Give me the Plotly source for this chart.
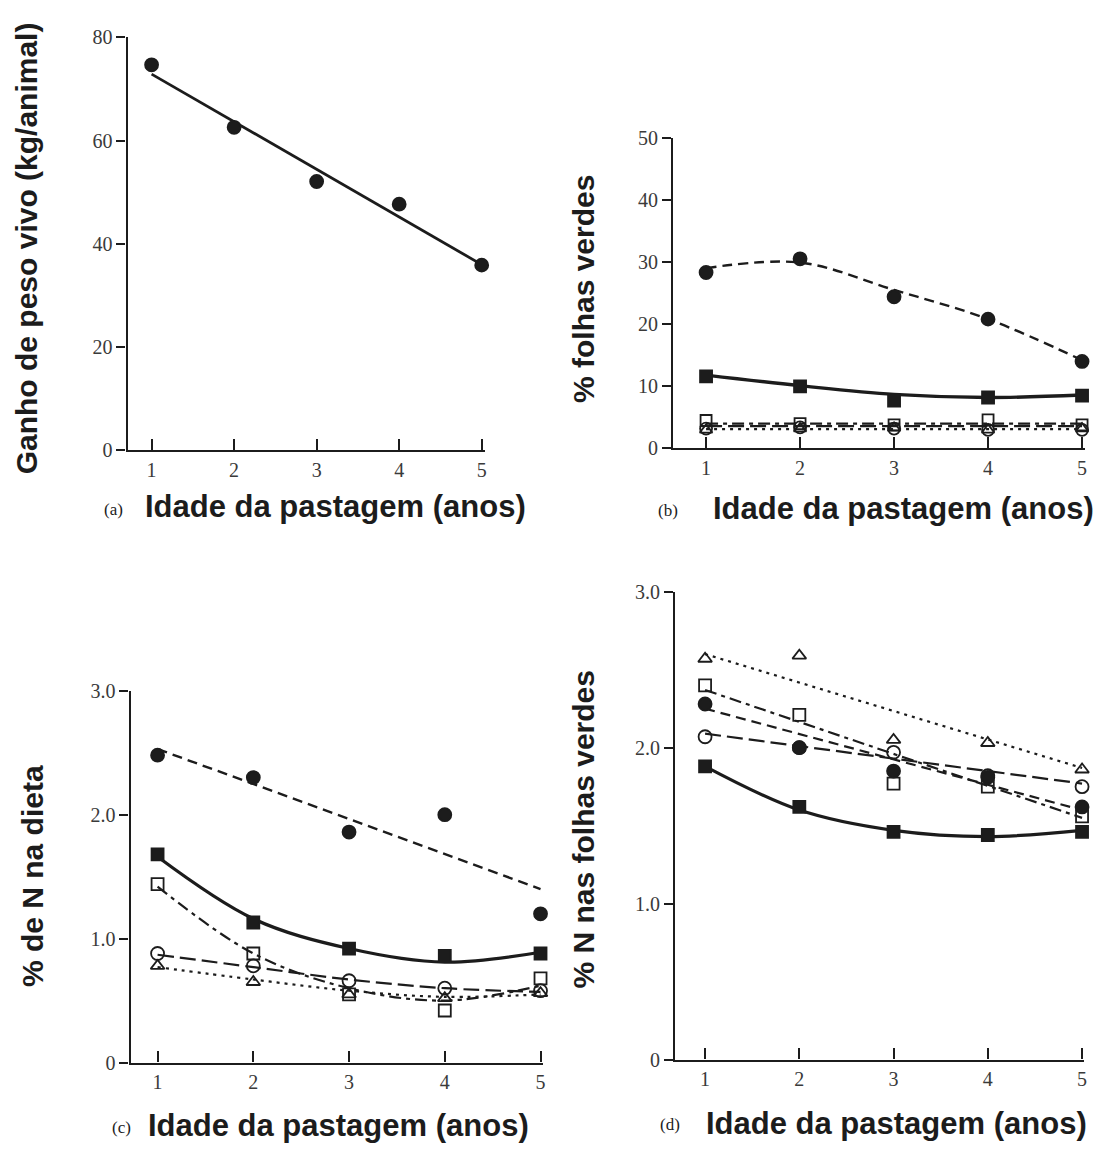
import plotly.graph_objects as go

W, H = 1104, 1153
years = [1, 2, 3, 4, 5]
ends = [1, 5]

# Panel (a)
a_gain = [74.7, 62.6, 52.1, 47.7, 35.9]
a_fit = [72.9, 36.0]

# Panel (b) % folhas verdes
b_fcirc = [28.3, 30.5, 24.4, 20.8, 14.0]
b_fcirc_fit = [29.0, 29.9, 25.5, 20.8, 14.2]
b_fsq = [11.6, 10.0, 7.7, 8.2, 8.5]
b_fsq_fit = [11.8, 10.1, 8.7, 8.2, 8.6]
b_osq = [4.5, 4.0, 3.8, 4.6, 3.8]
b_osq_fit = [4.0, 4.0, 4.0, 4.0, 4.0]
b_ocirc = [3.2, 3.4, 3.2, 3.0, 3.0]
b_ocirc_fit = [3.6, 3.6, 3.6, 3.6, 3.6]
b_tri = [3.0, 3.2, 3.3, 3.0, 3.2]
b_tri_fit = [3.1, 3.1, 3.1, 3.1, 3.1]

# Panel (c) % de N na dieta
c_fcirc = [2.48, 2.30, 1.86, 2.00, 1.20]
c_fcirc_fit = [2.53, 1.40]
c_fsq = [1.68, 1.13, 0.92, 0.86, 0.88]
c_fsq_fit = [1.66, 1.16, 0.92, 0.81, 0.89]
c_osq = [1.44, 0.88, 0.55, 0.42, 0.68]
c_osq_fit = [1.42, 0.88, 0.60, 0.50, 0.62]
c_ocirc = [0.88, 0.78, 0.66, 0.60, 0.58]
c_ocirc_fit = [0.87, 0.77, 0.67, 0.60, 0.57]
c_tri = [0.78, 0.65, 0.55, 0.52, 0.56]
c_tri_fit = [0.77, 0.67, 0.58, 0.53, 0.55]

# Panel (d) % N nas folhas verdes
d_tri = [2.57, 2.59, 2.05, 2.03, 1.86]
d_tri_fit = [2.60, 1.87]
d_osq = [2.40, 2.21, 1.77, 1.75, 1.56]
d_osq_fit = [2.37, 1.55]
d_fcirc = [2.28, 2.00, 1.85, 1.81, 1.62]
d_fcirc_fit = [2.25, 1.60]
d_ocirc = [2.07, 2.00, 1.97, 1.82, 1.75]
d_ocirc_fit = [2.09, 1.77]
d_fsq = [1.88, 1.62, 1.46, 1.44, 1.46]
d_fsq_fit = [1.88, 1.60, 1.47, 1.43, 1.47]

INK = "#1c1c1c"
SERIF = "Liberation Serif, Times New Roman, serif"
SANS = "Liberation Sans, Arial, sans-serif"

DASH = "10px,6px"
DASHDOT = "12px,5px,4px,5px"
LONGDASH = "16px,6px"
DOT = "3px,5px"

fig = go.Figure()


def px_x(x):
    return x / W


def px_y(y):
    return 1 - y / H


def add_pts(ax, xs, ys, symbol, size=12):
    fig.add_trace(go.Scatter(
        x=xs, y=ys, mode="markers", xaxis="x" + ax, yaxis="y" + ax, cliponaxis=False,
        marker=dict(symbol=symbol, size=size, color=INK,
                    line=dict(color=INK, width=1.8)),
        showlegend=False, hoverinfo="skip"))


def add_line(ax, xs, ys, dash, width=2.0, spline=False):
    fig.add_trace(go.Scatter(
        x=xs, y=ys, mode="lines", xaxis="x" + ax, yaxis="y" + ax, cliponaxis=False,
        line=dict(color=INK, width=width, dash=dash, shape="spline" if spline else "linear",
                  smoothing=1.0),
        showlegend=False, hoverinfo="skip"))


# (a)
add_line("", ends, a_fit, "solid", 2.8)
add_pts("", years, a_gain, "circle", 13)

# (b)
add_line("2", years, b_osq_fit, DASHDOT, 2.2)
add_line("2", years, b_ocirc_fit, LONGDASH, 2.2)
add_line("2", years, b_tri_fit, DOT, 2.2)
add_pts("2", years, b_osq, "square-open", 11)
add_pts("2", years, b_ocirc, "circle-open", 12)
add_pts("2", years, b_tri, "triangle-up-open", 11)
add_line("2", years, b_fcirc_fit, DASH, 2.4, True)
add_pts("2", years, b_fcirc, "circle", 13)
add_line("2", years, b_fsq_fit, "solid", 3.4, True)
add_pts("2", years, b_fsq, "square", 12)

# (c)
add_line("3", ends, c_fcirc_fit, DASH, 2.4)
add_pts("3", years, c_fcirc, "circle", 13)
add_line("3", years, c_fsq_fit, "solid", 3.2, True)
add_pts("3", years, c_fsq, "square", 12)
add_line("3", years, c_osq_fit, DASHDOT, 2.2, True)
add_line("3", years, c_ocirc_fit, LONGDASH, 2.2, True)
add_line("3", years, c_tri_fit, DOT, 2.2, True)
add_pts("3", years, c_osq, "square-open", 12)
add_pts("3", years, c_ocirc, "circle-open", 13)
add_pts("3", years, c_tri, "triangle-up-open", 12)

# (d)
add_line("4", ends, d_tri_fit, DOT, 2.2)
add_line("4", ends, d_osq_fit, DASHDOT, 2.2)
add_line("4", ends, d_fcirc_fit, DASH, 2.2)
add_line("4", ends, d_ocirc_fit, LONGDASH, 2.2)
add_line("4", years, d_fsq_fit, "solid", 3.2, True)
add_pts("4", years, d_ocirc, "circle-open", 13)
add_pts("4", years, d_tri, "triangle-up-open", 12)
add_pts("4", years, d_osq, "square-open", 12)
add_pts("4", years, d_fcirc, "circle", 13)
add_pts("4", years, d_fsq, "square", 12)

tickfont = dict(family=SERIF, size=20, color="#3a3a3a")


def xrange_for(axis_px, t1, t5, end_px):
    ppu = (t5 - t1) / 4.0
    return [1 - (t1 - axis_px) / ppu, 5 + (end_px - t5) / ppu]


def xaxis(axis_px, t1, t5, end_px, anchor):
    return dict(domain=[px_x(axis_px), px_x(end_px)], range=xrange_for(axis_px, t1, t5, end_px),
                anchor=anchor, tickvals=years, ticktext=[str(v) for v in years],
                ticks="inside", ticklen=11, tickwidth=1.5, tickcolor=INK, showline=True,
                linecolor=INK, linewidth=2.4, showgrid=False, zeroline=False,
                tickfont=tickfont, fixedrange=True)


def yaxis(top, bottom, rng, anchor, tv, tt):
    return dict(domain=[px_y(bottom), px_y(top)], range=rng, anchor=anchor,
                tickvals=tv, ticktext=tt, ticks="outside", ticklen=9, tickwidth=1.5,
                tickcolor=INK, showline=True, linecolor=INK, linewidth=2.4,
                showgrid=False, zeroline=False, tickfont=tickfont, fixedrange=True)


fig.update_layout(
    width=W, height=H, margin=dict(l=0, r=0, t=0, b=0),
    paper_bgcolor="white", plot_bgcolor="white",
    xaxis=xaxis(128, 152, 483, 486, "y"),
    yaxis=yaxis(27, 448, [0, 80], "x", [0, 20, 40, 60, 80], ["0", "20", "40", "60", "80"]),
    xaxis2=xaxis(675, 708, 1085, 1088, "y2"),
    yaxis2=yaxis(129, 446, [0, 50], "x2", [0, 10, 20, 30, 40, 50],
                 ["0", "10", "20", "30", "40", "50"]),
    xaxis3=xaxis(131, 158, 542, 544, "y3"),
    yaxis3=yaxis(693, 1072, [0, 3.0], "x3", [0, 1, 2, 3], ["0", "1.0", "2.0", "3.0"]),
    xaxis4=xaxis(677, 707, 1085, 1087, "y4"),
    yaxis4=yaxis(592, 1069, [0, 3.0], "x4", [0, 1, 2, 3], ["0", "1.0", "2.0", "3.0"]),
)


def ann(text, x, y, size, family, angle=0):
    fig.add_annotation(text=text, x=px_x(x), y=px_y(y), xref="paper", yref="paper",
                       showarrow=False, textangle=angle, xanchor="center", yanchor="middle",
                       font=dict(family=family, size=size, color=INK))


# y titles
ann("<b>Ganho de peso vivo (kg/animal)</b>", 26, 242, 30, SANS, -90)
ann("<b>% folhas verdes</b>", 585, 283, 30, SANS, -90)
ann("<b>% de N na dieta</b>", 32, 882, 30, SANS, -90)
ann("<b>% N nas folhas verdes</b>", 585, 834, 30, SANS, -90)

# x titles
xt = "<b>Idade da pastagem (anos)</b>"
ann("(a)", 114, 508, 17, SERIF)
ann(xt, 336, 505, 31, SANS)
ann("(b)", 670, 509, 17, SERIF)
ann(xt, 906, 507, 31, SANS)
ann("(c)", 122, 1138, 17, SERIF)
ann(xt, 339, 1136, 31, SANS)
ann("(d)", 672, 1135, 17, SERIF)
ann(xt, 899, 1134, 31, SANS)

fig.write_html("out.html", config={"displayModeBar": False},
               post_script="document.body.style.margin='0';")
